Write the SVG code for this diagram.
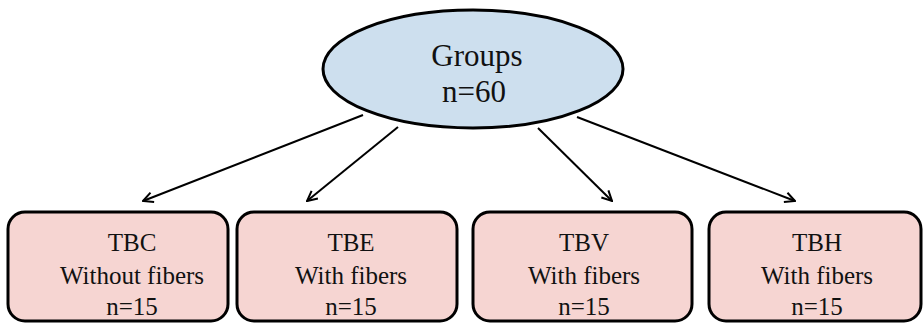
<svg xmlns="http://www.w3.org/2000/svg" width="923" height="324" viewBox="0 0 923 324">
  <style>
    .root { fill: #cddfee; stroke: #000; stroke-width: 3; }
    .box { fill: #f6d5d2; stroke: #000; stroke-width: 3; }
    .conn { stroke: #000; stroke-width: 2; fill: none; marker-end: url(#head); }
  </style>
  <defs>
    <marker id="head" viewBox="0 0 12 12" refX="11" refY="6" markerWidth="12" markerHeight="12" markerUnits="userSpaceOnUse" orient="auto">
      <path d="M1,1 L11,6 L1,11" fill="none" stroke="#000" stroke-width="2"/>
    </marker>
  </defs>
  <rect width="923" height="324" fill="#fff"/>

  <g id="connectors">
    <line class="conn" x1="363" y1="115" x2="143" y2="201"/>
    <line class="conn" x1="398" y1="127" x2="307" y2="201"/>
    <line class="conn" x1="538" y1="128" x2="612" y2="201"/>
    <line class="conn" x1="577" y1="117" x2="795" y2="201"/>
  </g>

  <g id="groups" font-family="Liberation Serif, DejaVu Serif, serif" font-size="31" fill="#111" text-anchor="middle">
    <ellipse class="root" cx="473" cy="69" rx="150" ry="59"/>
    <text x="477" y="66">Groups</text>
    <text x="474" y="102">n=60</text>
  </g>

  <g id="tbc" font-family="Liberation Serif, DejaVu Serif, serif" font-size="25" fill="#111" text-anchor="middle">
    <rect class="box" x="8" y="212" width="220" height="109" rx="17"/>
    <text x="132" y="251">TBC</text>
    <text x="132" y="284">Without fibers</text>
    <text x="132" y="315">n=15</text>
  </g>

  <g id="tbe" font-family="Liberation Serif, DejaVu Serif, serif" font-size="25" fill="#111" text-anchor="middle">
    <rect class="box" x="237" y="212" width="220" height="109" rx="17"/>
    <text x="351" y="251">TBE</text>
    <text x="351" y="284">With fibers</text>
    <text x="351" y="315">n=15</text>
  </g>

  <g id="tbv" font-family="Liberation Serif, DejaVu Serif, serif" font-size="25" fill="#111" text-anchor="middle">
    <rect class="box" x="473" y="212" width="219" height="109" rx="17"/>
    <text x="584" y="251">TBV</text>
    <text x="584" y="284">With fibers</text>
    <text x="584" y="315">n=15</text>
  </g>

  <g id="tbh" font-family="Liberation Serif, DejaVu Serif, serif" font-size="25" fill="#111" text-anchor="middle">
    <rect class="box" x="709" y="212" width="212" height="109" rx="17"/>
    <text x="817" y="251">TBH</text>
    <text x="817" y="284">With fibers</text>
    <text x="817" y="315">n=15</text>
  </g>
</svg>
